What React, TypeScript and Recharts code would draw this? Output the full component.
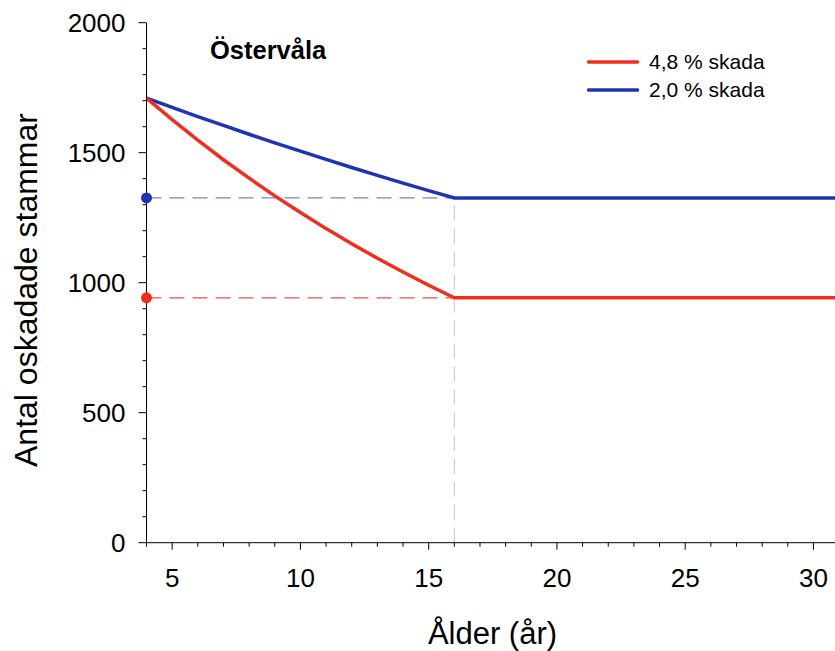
import React from "react";
import {
  LineChart,
  Line,
  XAxis,
  YAxis,
  ReferenceLine,
  ReferenceDot,
  Legend,
} from "recharts";

const ages = [4, 5, 6, 7, 8, 9, 10, 11, 12, 13, 14, 15, 16, 17, 18, 19, 20, 21, 22, 23, 24, 25, 26, 27, 28, 29, 30, 31];
const damage48 = [1710, 1627, 1548, 1473, 1402, 1334, 1270, 1208, 1150, 1094, 1041, 990, 942, 942, 942, 942, 942, 942, 942, 942, 942, 942, 942, 942, 942, 942, 942, 942];
const damage20 = [1710, 1674, 1639, 1605, 1571, 1538, 1506, 1474, 1443, 1413, 1383, 1354, 1326, 1326, 1326, 1326, 1326, 1326, 1326, 1326, 1326, 1326, 1326, 1326, 1326, 1326, 1326, 1326];
const xTicks = [4, 5, 6, 7, 8, 9, 10, 11, 12, 13, 14, 15, 16, 17, 18, 19, 20, 21, 22, 23, 24, 25, 26, 27, 28, 29, 30];
const yTicks = [0, 100, 200, 300, 400, 500, 600, 700, 800, 900, 1000, 1100, 1200, 1300, 1400, 1500, 1600, 1700, 1800, 1900, 2000];
const seriesNames = ["4,8 % skada", "2,0 % skada"];
const title = "Östervåla";
const xLabel = "Ålder (år)";
const yLabel = "Antal oskadade stammar";

const breakAge = 16;
const breakIndex = ages.indexOf(breakAge);
const startAge = ages[0];

const data = ages.map((a, i) => ({ age: a, r: damage48[i], b: damage20[i] }));

const FONT = "'Liberation Sans', Arial, Helvetica, sans-serif";
const RED = "#f02d1e";
const BLUE = "#2232b4";
const RED_DASH = "#f2503f";
const BLUE_DASH = "#7482dc";

const XTick = (props: any) => {
  const { x, y, payload } = props;
  const v = payload.value;
  const major = v % 5 === 0;
  return (
    <g>
      <line x1={x} x2={x} y1={y} y2={y + (major ? 7 : 4)} stroke="#000" strokeWidth={1} />
      {major && (
        <text x={x} y={y + 44} textAnchor="middle" fontSize={26} fontFamily={FONT} fill="#000">
          {v}
        </text>
      )}
    </g>
  );
};

const YTick = (props: any) => {
  const { x, y, payload } = props;
  const v = payload.value;
  const major = v % 500 === 0;
  return (
    <g>
      <line x1={x - (major ? 8 : 4)} x2={x} y1={y} y2={y} stroke="#000" strokeWidth={1} />
      {major && (
        <text x={x - 21} y={y} dy="0.355em" textAnchor="end" fontSize={26} fontFamily={FONT} fill="#000">
          {v}
        </text>
      )}
    </g>
  );
};

const renderXLabel = () => (
  <text x={492.5} y={644} textAnchor="middle" fontSize={31} fontFamily={FONT} fill="#000">
    {xLabel}
  </text>
);

const renderYLabel = () => (
  <g>
    <text
      x={37}
      y={290}
      transform="rotate(-90, 37, 290)"
      textAnchor="middle"
      fontSize={32}
      fontFamily={FONT}
      fill="#000"
    >
      {yLabel}
    </text>
    <text x={210} y={58.5} fontSize={25.5} fontWeight="bold" fontFamily={FONT} fill="#000">
      {title}
    </text>
  </g>
);

const LegendContent = () => {
  const colors = [RED, BLUE];
  return (
    <div style={{ fontFamily: FONT }}>
      {seriesNames.map((n, i) => (
        <div key={n} style={{ display: "flex", alignItems: "center", height: 28 }}>
          <svg width={52} height={28} style={{ display: "block" }}>
            <line x1={1.5} x2={50.5} y1={14} y2={14} stroke={colors[i]} strokeWidth={3.5} strokeLinecap="round" />
          </svg>
          <span style={{ marginLeft: 10, fontSize: 21, color: "#000", lineHeight: "28px", whiteSpace: "nowrap" }}>{n}</span>
        </div>
      ))}
    </div>
  );
};

export default function App() {
  return (
    <div style={{ position: "fixed", left: 0, top: 0, width: 835, height: 651, background: "#fff" }}>
      <LineChart
        width={835}
        height={651}
        data={data}
        margin={{ top: 22.7, right: 0, bottom: 28.3, left: 86.5 }}
      >
        <XAxis
          dataKey="age"
          type="number"
          domain={[4, 30.84]}
          allowDataOverflow
          ticks={xTicks}
          interval={0}
          tick={<XTick />}
          tickLine={false}
          tickSize={0}
          tickMargin={0}
          height={80}
          axisLine={{ stroke: "#000", strokeWidth: 1 }}
          label={renderXLabel}
        />
        <YAxis
          type="number"
          domain={[0, 2000]}
          ticks={yTicks}
          interval={0}
          tick={<YTick />}
          tickLine={false}
          tickSize={0}
          tickMargin={0}
          width={60}
          axisLine={{ stroke: "#000", strokeWidth: 1 }}
          label={renderYLabel}
        />
        <Legend
          layout="horizontal"
          verticalAlign="middle"
          align="center"
          content={<LegendContent />}
          wrapperStyle={{ position: "absolute", left: 587, top: 47.7, width: 220 }}
        />
        <ReferenceLine
          segment={[
            { x: breakAge, y: 0 },
            { x: breakAge, y: damage20[breakIndex] },
          ]}
          stroke="#c4c4c4"
          strokeWidth={1}
          strokeDasharray="15 8"
        />
        <ReferenceLine
          segment={[
            { x: startAge, y: damage20[breakIndex] },
            { x: breakAge, y: damage20[breakIndex] },
          ]}
          stroke={BLUE_DASH}
          strokeWidth={1.3}
          strokeDasharray="15 8"
        />
        <ReferenceLine
          segment={[
            { x: startAge, y: damage48[breakIndex] },
            { x: breakAge, y: damage48[breakIndex] },
          ]}
          stroke={RED_DASH}
          strokeWidth={1.3}
          strokeDasharray="15 8"
        />
        <Line
          dataKey="b"
          name={seriesNames[1]}
          stroke={BLUE}
          strokeWidth={3.5}
          dot={false}
          type="linear"
          isAnimationActive={false}
        />
        <Line
          dataKey="r"
          name={seriesNames[0]}
          stroke={RED}
          strokeWidth={3.5}
          dot={false}
          type="linear"
          isAnimationActive={false}
        />
        <ReferenceDot x={startAge} y={damage20[breakIndex]} r={5.5} fill={BLUE} stroke="none" />
        <ReferenceDot x={startAge} y={damage48[breakIndex]} r={5.5} fill={RED} stroke="none" />
      </LineChart>
    </div>
  );
}
